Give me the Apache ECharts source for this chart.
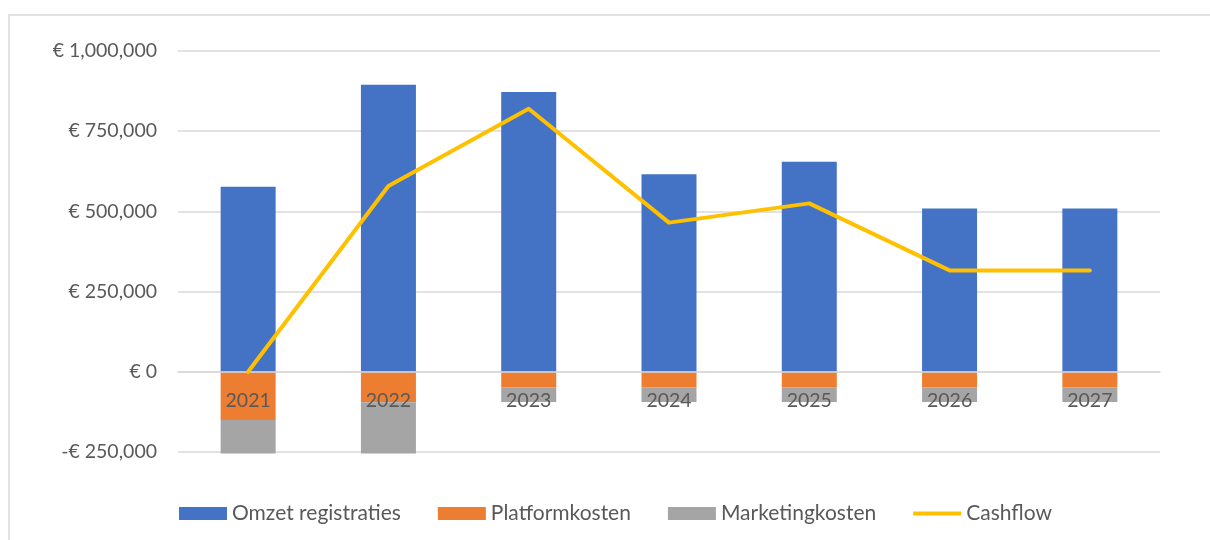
<!DOCTYPE html>
<html>
<head>
<meta charset="utf-8">
<script src="https://cdn.jsdelivr.net/npm/echarts@6/dist/echarts.min.js"></script>
<style>
  html, body { margin: 0; padding: 0; background: #fff; }
  #chart { width: 1210px; height: 540px; }
</style>
</head>
<body>
<div id="chart"></div>
<script>
// jaren
const years = ['2021', '2022', '2023', '2024', '2025', '2026', '2027']
// omzet en kosten (gestapeld)
const omzet = [577000, 895000, 872000, 616000, 655000, 509000, 509000]
const platformkosten = [-150000, -95000, -48000, -48000, -48000, -48000, -48000]
const marketingkosten = [-105000, -160000, -46000, -46000, -46000, -46000, -46000]
// cashflow lijn
const cashflow = [0, 579000, 820000, 465000, 525000, 316000, 316000]

const textColor = '#595959'
const gridColor = '#D9D9D9'
const font = 'Lato'

function euro(v) {
  const s = Math.abs(v).toLocaleString('en-US')
  return (v < 0 ? '-€ ' : '€ ') + s
}

const chart = echarts.init(document.getElementById('chart'))

const option = {
  animation: false,
  textStyle: { fontFamily: font },
  // kader rond de grafiek
  graphic: [{
    type: 'rect',
    shape: { x: 9, y: 15, width: 1240, height: 560 },
    style: { fill: 'none', stroke: gridColor, lineWidth: 1.5 },
    silent: true
  }],
  grid: { left: 178, right: 50, top: 51, bottom: 88 },
  legend: {
    top: 503,
    left: 179,
    padding: 0,
    itemWidth: 48,
    itemHeight: 13,
    itemGap: 37,
    textStyle: { color: textColor, fontSize: 21, fontFamily: font },
    data: [
      { name: 'Omzet registraties', icon: 'rect' },
      { name: 'Platformkosten', icon: 'rect' },
      { name: 'Marketingkosten', icon: 'rect' },
      { name: 'Cashflow', icon: 'path://M0,0H48V4H0Z' }
    ]
  },
  xAxis: {
    type: 'category',
    data: years,
    z: 3,
    // as op de nullijn (labels over de negatieve staven)
    offset: -80.2,
    axisLine: { onZero: false, lineStyle: { color: gridColor, width: 1.5 } },
    axisTick: { show: false },
    axisLabel: { color: textColor, fontSize: 19.5, margin: 19 }
  },
  yAxis: {
    type: 'value',
    min: -250000,
    max: 1000000,
    interval: 250000,
    axisLine: { show: false },
    axisTick: { show: false },
    splitLine: { lineStyle: { color: gridColor, width: 1.5 } },
    axisLabel: { color: textColor, fontSize: 19.5, margin: 21, formatter: euro }
  },
  series: [
    {
      name: 'Omzet registraties',
      type: 'bar',
      stack: 'totaal',
      barWidth: 55,
      clip: false,
      itemStyle: { color: '#4472C4' },
      data: omzet
    },
    {
      name: 'Platformkosten',
      type: 'bar',
      stack: 'totaal',
      barWidth: 55,
      clip: false,
      itemStyle: { color: '#ED7D31' },
      data: platformkosten
    },
    {
      name: 'Marketingkosten',
      type: 'bar',
      stack: 'totaal',
      barWidth: 55,
      clip: false,
      itemStyle: { color: '#A5A5A5' },
      data: marketingkosten
    },
    {
      name: 'Cashflow',
      type: 'line',
      z: 5,
      symbol: 'none',
      lineStyle: { color: '#FFC000', width: 4, cap: 'round', join: 'round' },
      itemStyle: { color: '#FFC000' },
      data: cashflow
    }
  ]
}

chart.setOption(option)
</script>
</body>
</html>
